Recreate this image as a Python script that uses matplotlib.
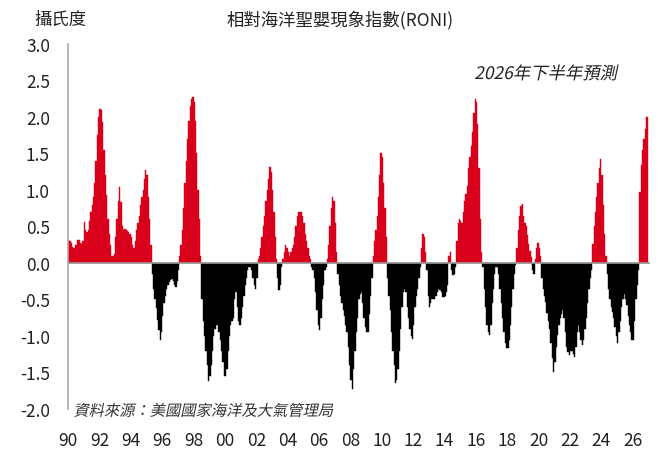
import numpy as np
import matplotlib
matplotlib.use('Agg')
import matplotlib.pyplot as plt
from matplotlib.patheffects import AbstractPathEffect
from matplotlib.transforms import Affine2D

plt.rcParams['font.family'] = ['Noto Sans CJK TC', 'DejaVu Sans']

# monthly RONI (Jan 1990 .. Dec 2026)
start_year = 1990
roni_1990s = [
    0.31, 0.30, 0.27, 0.22, 0.20, 0.24, 0.24, 0.32, 0.32, 0.28, 0.26, 0.30,
    0.56, 0.45, 0.42, 0.45, 0.58, 0.70, 0.80, 0.90, 1.10, 1.40, 1.75, 2.00,
    2.11, 2.10, 1.93, 1.55, 1.20, 0.93, 0.60, 0.40, 0.25, 0.10, 0.10, 0.12,
    0.35, 0.60, 0.85, 1.04, 0.84, 0.50, 0.45, 0.46, 0.45, 0.44, 0.42, 0.40,
    0.36, 0.24, 0.20, 0.30, 0.45, 0.55, 0.65, 0.80, 0.90, 1.00, 1.15, 1.27,
    1.20, 0.90, 0.60, 0.25, -0.15, -0.35, -0.50, -0.62, -0.78, -0.92, -1.05, -0.95,
    -0.72, -0.55, -0.45, -0.35, -0.30, -0.26, -0.24, -0.22, -0.25, -0.30, -0.33, -0.25,
    -0.10, 0.10, 0.25, 0.45, 0.75, 1.10, 1.40, 1.70, 1.95, 2.15, 2.25, 2.28,
    2.20, 1.95, 1.50, 1.00, 0.60, 0.10, -0.50, -0.80, -1.00, -1.20, -1.40, -1.62,
    -1.55, -1.40, -1.20, -1.00, -0.90, -0.85, -0.85, -0.95, -1.05, -1.20, -1.35, -1.55,
]
roni_2000s = [
    -1.55, -1.45, -1.20, -1.00, -0.85, -0.80, -0.75, -0.50, -0.40, -0.60, -0.80, -0.85,
    -0.75, -0.60, -0.45, -0.30, -0.20, -0.10, -0.05, -0.05, -0.10, -0.20, -0.30, -0.35,
    -0.20, 0.05, 0.10, 0.20, 0.35, 0.50, 0.65, 0.85, 1.00, 1.15, 1.32, 1.25,
    1.00, 0.70, 0.35, 0.05, -0.20, -0.37, -0.30, -0.05, 0.05, 0.15, 0.25, 0.20,
    0.15, 0.10, 0.15, 0.20, 0.25, 0.35, 0.50, 0.65, 0.70, 0.70, 0.70, 0.65,
    0.55, 0.40, 0.30, 0.20, 0.10, 0.05, -0.05, -0.10, -0.20, -0.40, -0.65, -0.85,
    -0.92, -0.75, -0.50, -0.30, -0.10, -0.05, 0.05, 0.25, 0.50, 0.75, 0.90, 0.85,
    0.55, 0.15, -0.15, -0.30, -0.45, -0.55, -0.65, -0.72, -0.85, -0.95, -1.15, -1.40,
    -1.60, -1.72, -1.45, -1.20, -0.95, -0.75, -0.50, -0.42, -0.40, -0.55, -0.75, -0.88,
    -0.95, -0.95, -0.70, -0.45, -0.20, 0.10, 0.30, 0.45, 0.65, 0.90, 1.20, 1.50,
]
roni_2010s = [
    1.45, 1.10, 0.75, 0.35, -0.20, -0.45, -0.65, -0.95, -1.20, -1.40, -1.65, -1.60,
    -1.45, -1.20, -0.90, -0.60, -0.40, -0.35, -0.40, -0.60, -0.75, -0.90, -1.00, -1.04,
    -0.85, -0.60, -0.45, -0.35, -0.20, -0.05, 0.20, 0.40, 0.35, 0.15, -0.10, -0.45,
    -0.60, -0.55, -0.50, -0.50, -0.50, -0.45, -0.40, -0.35, -0.37, -0.40, -0.47, -0.47,
    -0.45, -0.40, -0.30, 0.10, 0.15, -0.10, -0.17, -0.15, -0.05, 0.30, 0.55, 0.60,
    0.58, 0.55, 0.70, 0.85, 0.95, 1.05, 1.30, 1.45, 1.60, 1.80, 2.05, 2.25,
    2.20, 1.90, 1.30, 0.60, 0.15, -0.05, -0.35, -0.60, -0.85, -0.95, -0.99, -0.85,
    -0.55, -0.35, -0.15, -0.05, -0.05, -0.15, -0.35, -0.55, -0.75, -0.95, -1.10, -1.17,
    -1.17, -1.05, -0.85, -0.60, -0.35, -0.15, -0.03, 0.20, 0.45, 0.65, 0.78, 0.81,
    0.65, 0.55, 0.50, 0.38, 0.26, 0.16, 0.08, -0.10, -0.15, 0.05, 0.20, 0.28,
]
roni_2020s = [
    0.20, 0.10, -0.20, -0.35, -0.45, -0.53, -0.68, -0.80, -0.90, -1.10, -1.30, -1.49,
    -1.35, -1.15, -0.99, -0.85, -0.75, -0.70, -0.65, -0.75, -0.95, -1.15, -1.22, -1.26,
    -1.20, -1.20, -1.25, -1.29, -1.15, -0.95, -0.85, -0.95, -1.05, -1.13, -1.05, -0.90,
    -0.75, -0.55, -0.35, -0.20, -0.10, 0.26, 0.50, 0.70, 0.90, 1.10, 1.30, 1.42,
    1.20, 0.80, 0.40, 0.10, -0.15, -0.35, -0.50, -0.60, -0.67, -0.75, -0.88, -1.00,
    -1.10, -0.95, -0.80, -0.60, -0.50, -0.42, -0.50, -0.58, -0.72, -0.85, -0.95, -1.05,
    -1.05, -0.80, -0.50, -0.30, -0.10, 0.97, 1.34, 1.55, 1.70, 1.84, 2.00, 2.00,
]

year_ticks = list(range(1990, 2027, 2))
year_labels = ['%02d' % (y % 100) for y in year_ticks]
y_ticks = [3.0, 2.5, 2.0, 1.5, 1.0, 0.5, 0.0, -0.5, -1.0, -1.5, -2.0]


class Slant(AbstractPathEffect):
    # fake italic: the CJK font has no oblique face
    def __init__(self, deg=12):
        super().__init__()
        self.deg = deg

    def draw_path(self, renderer, gc, tpath, affine, rgbFace=None):
        renderer.draw_path(gc, tpath, Affine2D().skew_deg(self.deg, 0) + affine, rgbFace)


vals = np.array(roni_1990s + roni_2000s + roni_2010s + roni_2020s)
t = start_year + np.arange(len(vals)) / 12.0
cols = np.where(vals >= 0, '#D9001B', '#000000')

fig = plt.figure(figsize=(6.67, 4.52), dpi=100)
ax = fig.add_axes([0.102, 0.093, 0.8725, 0.8075])

ax.bar(t, vals, width=1/12, align='edge', color=cols, edgecolor=cols, linewidth=0.3)
ax.axhline(0, color='#999999', lw=1.2, zorder=3)

ax.set_xlim(1990, 2027.1)
ax.set_ylim(-2.0, 3.0)
ax.set_yticks(y_ticks)
ax.set_yticklabels(['%.1f' % v for v in y_ticks])
ax.set_xticks(year_ticks)
ax.set_xticklabels(year_labels)
ax.tick_params(axis='y', length=0, pad=13, labelsize=12.5, labelcolor='#222222')
ax.tick_params(axis='x', length=0, pad=16, labelsize=12.5, labelcolor='#222222')
for lab in ax.get_xticklabels() + ax.get_yticklabels():
    lab.set_fontweight('light')

for s in ['top', 'right', 'bottom']:
    ax.spines[s].set_visible(False)
ax.spines['left'].set_color('#aaaaaa')
ax.spines['left'].set_linewidth(1.2)

fig.text(0.51, 0.956, '相對海洋聖嬰現象指數(RONI)', ha='center', va='center',
         fontsize=12.5, color='#222222', fontweight='light')
fig.text(0.051, 0.956, '攝氏度', ha='left', va='center', fontsize=12.5,
         color='#222222', fontweight='light')
fig.text(0.818, 0.834, '2026年下半年預測', ha='center', va='center',
         fontsize=12.5, color='#222222', fontweight='light',
         path_effects=[Slant(12)])
fig.text(0.110, 0.088, '資料來源：美國國家海洋及大氣管理局', ha='left', va='center',
         fontsize=11, color='#333333', fontweight='light',
         path_effects=[Slant(12)])

fig.savefig('out.png', dpi=100)
